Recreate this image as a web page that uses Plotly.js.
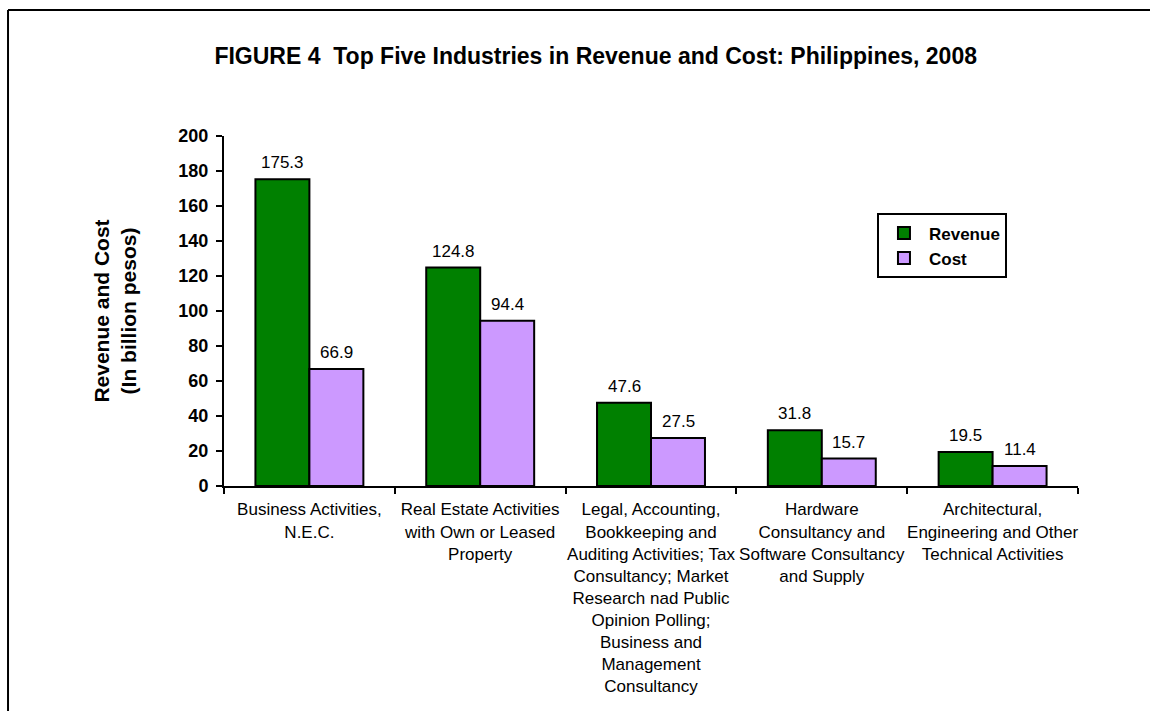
<!DOCTYPE html>
<html>
<head>
<meta charset="utf-8">
<script src="https://cdn.plot.ly/plotly-3.0.1.min.js"></script>
<style>
  html, body { margin: 0; padding: 0; background: #ffffff; }
  #chart { width: 1150px; height: 711px; }
</style>
</head>
<body>
<div id="chart"></div>
<script>
const categories = [
  "Business Activities,<br>N.E.C.",
  "Real Estate Activities<br>with Own or Leased<br>Property",
  "Legal, Accounting,<br>Bookkeeping and<br>Auditing Activities; Tax<br>Consultancy; Market<br>Research nad Public<br>Opinion Polling;<br>Business and<br>Management<br>Consultancy",
  "Hardware<br>Consultancy and<br>Software Consultancy<br>and Supply",
  "Architectural,<br>Engineering and Other<br>Technical Activities"
];
const revenue = [175.3, 124.8, 47.6, 31.8, 19.5];
const cost = [66.9, 94.4, 27.5, 15.7, 11.4];
const seriesNames = ["Revenue", "Cost"];
const yTickValues = [0, 20, 40, 60, 80, 100, 120, 140, 160, 180, 200];
const chartTitle = "FIGURE 4  Top Five Industries in Revenue and Cost: Philippines, 2008";
const yTitle = "Revenue and Cost<br>(In billion pesos)";

const FONT = "Arial, 'Liberation Sans', sans-serif";
const GREEN = "#008000";
const PURPLE = "#CC99FF";

const traces = [
  {
    type: "bar", name: seriesNames[0], x: categories, y: revenue,
    marker: { color: GREEN, line: { color: "#000000", width: 2 } },
    hoverinfo: "y"
  },
  {
    type: "bar", name: seriesNames[1], x: categories, y: cost,
    marker: { color: PURPLE, line: { color: "#000000", width: 2 } },
    hoverinfo: "y"
  }
];

const annotations = [];
revenue.forEach((v, i) => {
  annotations.push({ x: categories[i], y: v, xref: "x", yref: "y", text: v.toFixed(1),
    showarrow: false, xshift: -27, yshift: 5, yanchor: "bottom",
    font: { family: FONT, size: 17, color: "#000000" } });
});
cost.forEach((v, i) => {
  annotations.push({ x: categories[i], y: v, xref: "x", yref: "y", text: v.toFixed(1),
    showarrow: false, xshift: 27, yshift: 5, yanchor: "bottom",
    font: { family: FONT, size: 17, color: "#000000" } });
});

const layout = {
  width: 1150, height: 711,
  margin: { l: 224, r: 72, t: 136, b: 225, pad: 0 },
  paper_bgcolor: "#ffffff", plot_bgcolor: "#ffffff",
  font: { family: FONT, color: "#000000" },
  title: {
    text: chartTitle, xref: "container", yref: "container",
    x: 0.518, xanchor: "center", y: 0.921, yanchor: "middle",
    font: { family: FONT, size: 23, weight: "bold", color: "#000000" }
  },
  barmode: "group", bargap: 0.368, bargroupgap: 0,
  showlegend: true,
  legend: {
    x: 0.7646, y: 0.779, xanchor: "left", yanchor: "top",
    bgcolor: "#ffffff", bordercolor: "#000000", borderwidth: 2,
    font: { family: FONT, size: 17, weight: "bold", color: "#000000" },
    traceorder: "normal", itemwidth: 40, entrywidth: 100, tracegroupgap: 0
  },
  xaxis: {
    type: "category", tickson: "boundaries", ticks: "outside", ticklen: 6, tickwidth: 2,
    tickcolor: "#000000", showline: true, linecolor: "#000000", linewidth: 2,
    showgrid: false, zeroline: false, tickangle: 0, ticklabelstandoff: 7,
    tickfont: { family: FONT, size: 17, color: "#000000" }, fixedrange: true
  },
  yaxis: {
    range: [0, 200], tickvals: yTickValues, ticks: "outside", ticklen: 6, tickwidth: 2,
    tickcolor: "#000000", showline: true, linecolor: "#000000", linewidth: 2,
    showgrid: false, zeroline: false, ticklabelstandoff: 4,
    tickfont: { family: FONT, size: 18, weight: "bold", color: "#000000" },
    title: { text: yTitle, standoff: 36, font: { family: FONT, size: 21, weight: "bold", color: "#000000" } },
    fixedrange: true
  },
  annotations: annotations,
  shapes: [
    { type: "line", xref: "paper", yref: "paper", x0: -0.2529, x1: 1.09, y0: 1.36, y1: 1.36,
      line: { color: "#000000", width: 2 } },
    { type: "line", xref: "paper", yref: "paper", x0: -0.2529, x1: -0.2529, y0: 1.36, y1: -0.66,
      line: { color: "#000000", width: 2 } }
  ]
};

Plotly.newPlot("chart", traces, layout, { displayModeBar: false, staticPlot: true });
</script>
</body>
</html>
